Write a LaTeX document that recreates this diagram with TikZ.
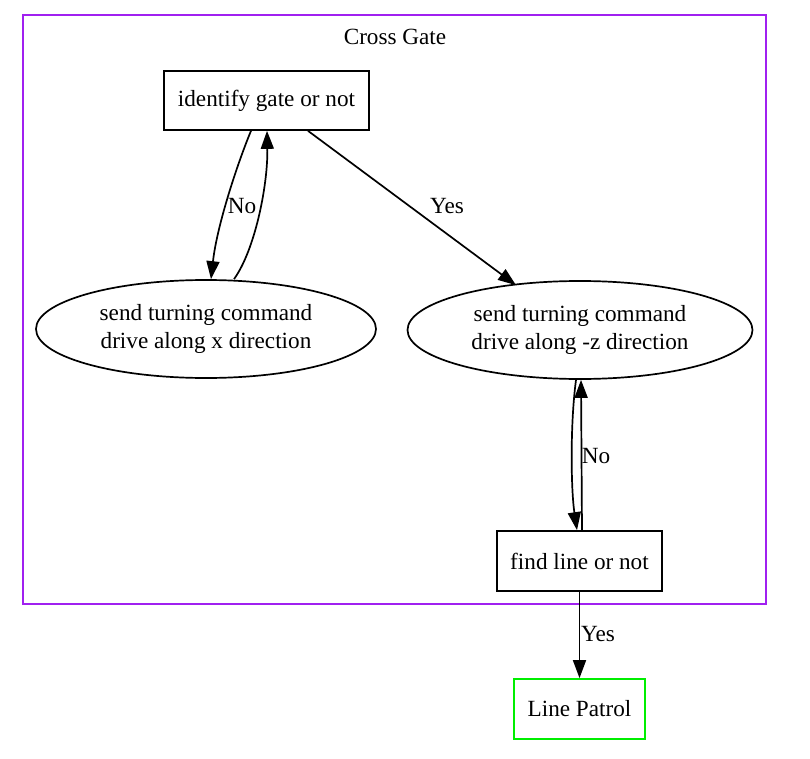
\documentclass[tikz,border=0pt]{standalone}
\usepackage{fontspec}
\setmainfont{Liberation Serif}
\usetikzlibrary{arrows.meta,calc,shapes.geometric}
\definecolor{gvpurple}{RGB}{160,32,240}
\definecolor{gvgreen}{RGB}{0,238,0}
\begin{document}
\begin{tikzpicture}[x=1pt,y=-1pt,
  every node/.style={font=\fontsize{23.2}{28}\selectfont},
  box/.style={draw,line width=1.7pt,rectangle,inner sep=0pt,align=center},
  oval/.style={draw,line width=1.7pt,ellipse,inner sep=0pt,align=center},
  conn/.style={line width=1.7pt,-{Triangle[length=18pt,width=13pt]}},
  lab/.style={inner sep=0pt}]
\useasboundingbox (0,0) rectangle (810,759);
\draw[gvpurple,line width=1.7pt] (23,15) rectangle (766,604);
\node[lab] (title) at (395,37) {Cross Gate};
\node[box,minimum width=205pt,minimum height=59pt] (b1) at (266.5,100.5) {identify gate or not};
\node[oval,minimum width=340pt,minimum height=98pt] (e1) at (206,329) {send turning command\\drive along x direction};
\node[oval,minimum width=345pt,minimum height=98pt] (e2) at (580,330) {send turning command\\drive along -z direction};
\node[box,minimum width=165pt,minimum height=60pt] (b2) at (579.5,561) {find line or not};
\node[box,draw=gvgreen,minimum width=131pt,minimum height=60pt] (lp) at (579.5,709) {Line Patrol};
% edges
\draw[conn] ($(b1.south)+(-15.5,0)$) .. controls (238,162) and (217,225) .. ($(e1.north)+(5,0)$);
\draw[conn] ($(e1.north)+(28,0)$) .. controls (255,250) and (268,185) .. ($(b1.south)+(0.5,0)$);
\node[lab] (l1) at (242,206) {No};
\draw[conn] ($(b1.south)+(41.5,0)$) -- ($(e2.north)+(-64,5)$);
\node[lab] (l2) at (447,206) {Yes};
\draw[conn] ($(e2.south)+(-4,0)$) .. controls (570,425) and (571,490) .. ($(b2.north)+(-2.5,0)$);
\draw[conn] ($(b2.north)+(2.5,0)$) -- ($(e2.south)+(1,0)$);
\node[lab] (l3) at (596,456) {No};
\draw[conn] (b2.south) -- (lp.north);
\node[lab] (l4) at (598,634) {Yes};
\end{tikzpicture}
\end{document}
